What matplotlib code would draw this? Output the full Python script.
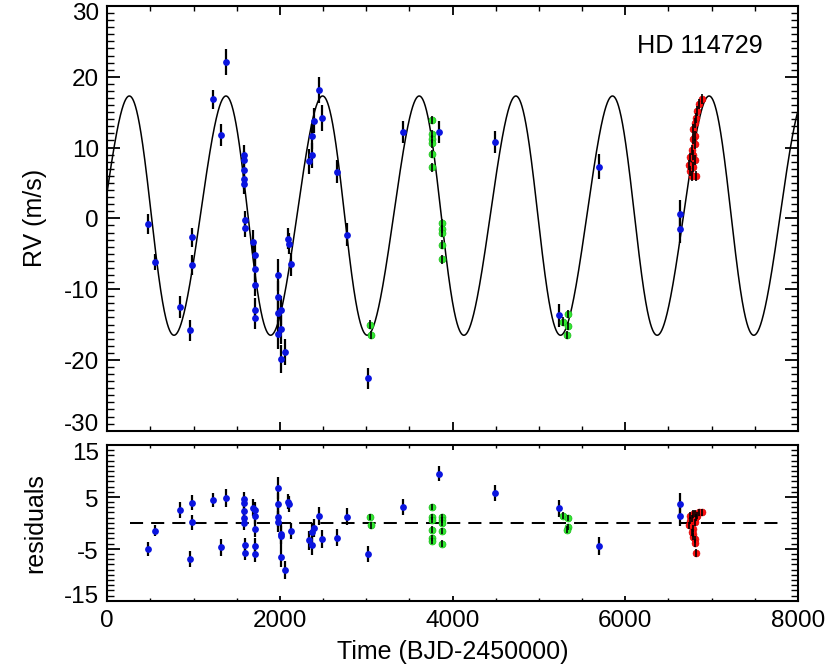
import numpy as np
import matplotlib
matplotlib.use('Agg')
import matplotlib.pyplot as plt
from matplotlib.ticker import MultipleLocator, FixedLocator
import matplotlib.transforms as mtrans

plt.rcParams['font.family'] = ['Liberation Sans', 'DejaVu Sans']
plt.rcParams['axes.unicode_minus'] = False

# ---------------- data ----------------
blue_t = [468, 552, 842, 958, 985, 985, 1228, 1313, 1371,
          1580, 1582, 1584, 1586, 1588, 1590, 1592,
          1684, 1707, 1711, 1711, 1707, 1707,
          1973, 1973, 1973, 2012, 2012, 1981, 2008, 2062,
          2097, 2100, 2131,
          2333, 2367, 2367, 2390, 2452, 2490,
          2657, 2776, 3016, 3421, 3842, 4490, 5228, 5699, 6633, 6635]
blue_rv = [-0.85, -6.2, -12.5, -15.8, -2.7, -6.6, 16.8, 11.8, 22.1,
           9.0, 8.2, 6.8, 5.5, 4.8, -0.3, -1.3,
           -3.3, -5.2, -7.2, -9.4, -12.9, -14.1,
           -8.0, -11.1, -13.4, -13.0, -15.7, -16.4, -19.9, -18.9,
           -2.9, -3.6, -6.5,
           8.05, 8.9, 11.6, 13.8, 18.1, 14.2,
           6.6, -2.3, -22.6, 12.2, 12.2, 10.8, -13.7, 7.3, 0.66, -1.55]
blue_err = [1.4, 1.1, 1.6, 1.5, 1.4, 1.4, 1.4, 1.6, 1.8,
            1.3, 1.3, 1.3, 1.3, 1.3, 1.3, 1.3,
            1.6, 1.6, 1.6, 1.6, 1.6, 1.6,
            2.2, 2.2, 2.0, 2.0, 2.0, 2.0, 2.0, 1.8,
            1.5, 1.5, 1.6,
            1.8, 1.8, 1.8, 1.8, 1.8, 1.8,
            1.65, 1.6, 1.5, 1.5, 1.5, 1.5, 1.6, 1.75, 2.0, 2.0]
blue_res = [-5.0, -1.5, 2.5, -7.0, 3.9, 0.1, 4.4, -4.7, 4.8,
            4.6, 3.9, 2.3, 1.0, -0.1, -4.3, -5.9,
            2.9, 2.5, 1.4, -1.1, -4.5, -6.0,
            6.7, 3.6, 1.2, -2.1, -2.6, 0.25, -6.6, -9.1,
            4.1, 3.6, -1.6,
            -3.4, -4.3, -1.8, -1.0, 1.3, -3.1,
            -2.9, 1.2, -6.0, 3.0, 9.5, 5.8, 2.8, -4.5, 3.7, 1.4]

green_t = [3047, 3054, 3757, 3757, 3757, 3757, 3757, 3757,
           3880, 3880, 3880, 3880, 3880, 5282, 5340, 5340, 5321]
green_rv = [-15.0, -16.5, 13.9, 11.9, 11.2, 10.6, 9.1, 7.2,
            -0.7, -1.5, -2.0, -3.7, -5.8, -14.6, -13.5, -15.2, -16.5]
green_res = [1.2, -0.5, 3.0, 1.2, 0.6, -1.3, -2.9, -3.5,
             1.2, 0.6, -0.1, -1.6, -4.0, 1.4, 0.95, -0.8, -1.3]
green_err = [0.6] * len(green_t)

red_t = [6884, 6853, 6826, 6822, 6815, 6807, 6807, 6807, 6807,
         6787, 6787, 6787, 6781, 6769, 6769, 6749, 6749, 6741]
red_rv = [16.8, 16.1, 15.2, 6.0, 14.2, 13.5, 11.6, 10.5, 8.3,
          12.6, 9.0, 7.2, 11.2, 9.7, 6.0, 8.6, 6.7, 7.6]
red_res = [2.0, 2.0, 1.4, -5.8, 1.1, 1.8, -3.2, 0.1, -3.9,
           -2.1, -2.7, 1.7, -1.1, 0.8, -1.8, 1.4, 0.4, -0.5]
red_err = [0.7] * len(red_t)

# Keplerian model parameters (fit curve)
P_orb = 1119.2
K_amp = 16.9
ecc = 0.06
omega_deg = 80.0
t_peri = 483.0
gamma = 0.21

star_name = 'HD 114729'


def kepler_rv(t):
    t = np.asarray(t, dtype=float)
    M = 2 * np.pi * (t - t_peri) / P_orb
    E = M.copy()
    for _ in range(60):
        E = E - (E - ecc * np.sin(E) - M) / (1 - ecc * np.cos(E))
    nu = 2 * np.arctan2(np.sqrt(1 + ecc) * np.sin(E / 2),
                        np.sqrt(1 - ecc) * np.cos(E / 2))
    w = np.radians(omega_deg)
    return gamma + K_amp * (np.cos(nu + w) + ecc * np.cos(w))


# ---------------- figure ----------------
W, H = 830, 664
fig = plt.figure(figsize=(W / 100, H / 100), dpi=100)


def rect(l, t, r, b):
    return [l / W, 1 - b / H, (r - l) / W, (b - t) / H]


ax1 = fig.add_axes(rect(107.3, 6, 798, 430.7))
ax2 = fig.add_axes(rect(107.3, 445, 798, 600.7))

BLUE = '#0a14e0'
GREEN = '#30ea30'
RED = '#ff1010'

# model curve
tgrid = np.linspace(0, 8000, 4000)
ax1.plot(tgrid, kepler_rv(tgrid), color='k', lw=1.1, zorder=2)

for ax, by, gy, ry in ((ax1, blue_rv, green_rv, red_rv),
                       (ax2, blue_res, green_res, red_res)):
    ax.errorbar(blue_t, by, yerr=blue_err, fmt='none', ecolor='k',
                elinewidth=1.6, capsize=0, zorder=3)
    ax.plot(blue_t, by, 'o', color=BLUE, ms=4.9, mec='none', zorder=4)
    ax.plot(green_t, gy, 'o', color=GREEN, ms=5.0, mec='#1cb81c',
            mew=0.5, zorder=5)
    ax.errorbar(green_t, gy, yerr=green_err, fmt='none', ecolor='k',
                elinewidth=1.2, capsize=0, zorder=6)
    ax.plot(red_t, ry, 'o', color=RED, ms=5.0, mec='#d00000',
            mew=0.4, zorder=5)
    ax.errorbar(red_t, ry, yerr=red_err, fmt='none', ecolor='k',
                elinewidth=1.2, capsize=0, zorder=6)

ax2.plot([265, 7830], [0, 0], color='k', lw=1.45, dashes=(6.5, 4), zorder=2)

# axes setup
ax1.set_xlim(0, 8000)
ax1.set_ylim(-30, 30)
ax2.set_xlim(0, 8000)
ax2.set_ylim(-15, 15)

for ax in (ax1, ax2):
    ax.xaxis.set_major_locator(MultipleLocator(2000))
    ax.xaxis.set_minor_locator(MultipleLocator(500))
    ax.yaxis.set_minor_locator(MultipleLocator(1))
    for sp in ax.spines.values():
        sp.set_linewidth(1.5)
    ax.tick_params(which='both', direction='in', top=True, right=True,
                   labelsize=17.5)
    ax.tick_params(axis='y', which='major', length=9.4, width=1.3, pad=6)
    ax.tick_params(axis='y', which='minor', length=5.0, width=1.0)

ax1.yaxis.set_major_locator(MultipleLocator(10))
ax2.yaxis.set_major_locator(FixedLocator([-15, -5, 5, 15]))
ax1.tick_params(axis='x', which='major', length=6.5, width=1.3)
ax1.tick_params(axis='x', which='minor', length=3.4, width=1.0)
ax1.tick_params(labelbottom=False)
ax2.tick_params(axis='x', which='major', length=3.3, width=1.3, pad=7)
ax2.tick_params(axis='x', which='minor', length=1.9, width=1.0)


def shift_ylabels(ax, shifts, default):
    locs = ax.get_yticks()
    for tick, val in zip(ax.yaxis.get_major_ticks(len(locs)), locs):
        dy = shifts.get(int(round(val)), default)
        off = mtrans.ScaledTranslation(0, -dy / 100, fig.dpi_scale_trans)
        tick.label1.set_transform(tick.label1.get_transform() + off)


shift_ylabels(ax1, {30: 6.0, -30: -8.5}, 0.5)
shift_ylabels(ax2, {15: 6.5, -15: -6.0}, 2.0)

# labels
fig.text(35 / W, 1 - 218.3 / H, 'RV (m/s)', rotation=90, ha='center',
         va='center', fontsize=18)
fig.text(35 / W, 1 - 522.9 / H, 'residuals', rotation=90, ha='center',
         va='center', fontsize=18)
fig.text(452.7 / W, 1 - 659.5 / H, 'Time (BJD-2450000)', ha='center',
         va='baseline', fontsize=18)
fig.text(763 / W, 1 - 53.3 / H, star_name, ha='right', va='baseline',
         fontsize=18.2)

fig.savefig('out.png', dpi=100)
